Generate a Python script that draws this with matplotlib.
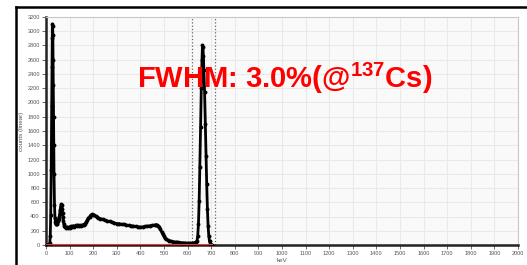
import matplotlib
matplotlib.use("Agg")
import matplotlib.pyplot as plt
from matplotlib.lines import Line2D

# spectrum (keV, counts), 10 points per row
energy = [0, 4, 8, 12, 14, 16, 18, 20, 22, 24,
          25, 26, 27, 28, 29, 30, 31, 32, 33, 34,
          36, 38, 40, 42, 44, 46, 48, 50, 52, 54,
          56, 58, 60, 62, 64, 66, 68, 70, 72, 74,
          76, 78, 80, 84, 88, 92, 96, 100, 105, 110,
          115, 120, 125, 130, 135, 140, 145, 150, 155, 160,
          165, 170, 175, 180, 185, 190, 195, 200, 205, 210,
          215, 220, 230, 240, 250, 260, 270, 280, 290, 300,
          310, 320, 330, 340, 350, 360, 370, 380, 390, 400,
          410, 420, 430, 440, 450, 460, 465, 470, 475, 480,
          485, 490, 495, 500, 505, 510, 515, 520, 530, 540,
          550, 560, 570, 580, 590, 600, 610, 620, 625, 630,
          635, 640, 643, 646, 649, 652, 655, 658, 661, 663,
          665, 667, 669, 672, 675, 678, 681, 684, 687, 690,
          693, 696, 700, 704]
counts = [0, 0, 0, 0, 5, 30, 120, 420, 1050, 1950,
          2500, 2900, 3100, 3080, 2950, 2600, 2250, 1800, 1400, 1000,
          560, 380, 320, 300, 290, 300, 310, 330, 350, 370,
          400, 440, 490, 540, 570, 560, 510, 450, 390, 330,
          290, 265, 250, 240, 255, 235, 250, 245, 265, 250,
          270, 255, 275, 260, 280, 265, 275, 270, 285, 280,
          300, 320, 350, 380, 400, 420, 430, 425, 415, 405,
          395, 385, 370, 360, 345, 335, 330, 320, 310, 300,
          300, 290, 290, 280, 275, 270, 265, 260, 255, 250,
          255, 260, 265, 270, 275, 280, 285, 280, 270, 250,
          220, 185, 150, 120, 95, 80, 68, 60, 52, 46,
          42, 38, 34, 30, 28, 26, 25, 25, 28, 32,
          40, 60, 130, 300, 620, 1100, 1650, 2200, 2600, 2800,
          2780, 2650, 2450, 2150, 1700, 1250, 850, 500, 260, 120,
          50, 18, 6, 0]

bar_x = [0, 700]
bar_y = [0, 0]
roi_edges = [620, 717]
fwhm_text = r"FWHM: 3.0%(@$^{\mathrm{137}}$Cs)"

plt.rcParams["font.family"] = ["Liberation Sans", "DejaVu Sans"]
plt.rcParams["mathtext.fontset"] = "custom"
plt.rcParams["mathtext.rm"] = "Liberation Sans:bold"

fig = plt.figure(figsize=(5.27, 2.65), dpi=100)
fig.patch.set_facecolor("white")
ax = fig.add_axes([46 / 527, 1 - 245 / 265, 472 / 527, 228 / 265])
ax.set_facecolor("#f9f9f9")

ax.plot(energy, counts, color="black", linewidth=2.0, marker="o",
        markersize=1.8, zorder=3)
ax.plot(bar_x, bar_y, color="#ff3030", linewidth=2.2, zorder=4)
for e in roi_edges:
    ax.axvline(e, color="#666666", linestyle=":", linewidth=0.9, zorder=2)

ax.set_xlim(0, 2000)
ax.set_ylim(0, 3200)
ax.set_xticks(range(0, 2001, 100))
ax.set_yticks(range(0, 3201, 200))
ax.grid(True, color="#e9e9e9", linewidth=0.8)
ax.set_axisbelow(True)
ax.tick_params(labelsize=4, colors="#555555", length=3, width=0.6, pad=1.5)
for s in ["top", "right"]:
    ax.spines[s].set_color("#c8c8c8")
    ax.spines[s].set_linewidth(0.8)
for s in ["left", "bottom"]:
    ax.spines[s].set_color("#222222")
    ax.spines[s].set_linewidth(1.8)
ax.set_xlabel("keV", fontsize=4.5, color="#555555", labelpad=1)
ax.set_ylabel("counts (linear)", fontsize=4.5, color="#555555", labelpad=2)

fig.text(137 / 527, 1 - 78 / 265, fwhm_text, color="#ff0000", fontsize=21,
         fontweight="bold", ha="left", va="center")

# outer frame (cut off at right and bottom)
fig.add_artist(Line2D([15.5 / 527, 15.5 / 527], [0, 1 - 6.5 / 265],
                      color="black", linewidth=1.8))
fig.add_artist(Line2D([15.5 / 527, 1], [1 - 6.5 / 265, 1 - 6.5 / 265],
                      color="black", linewidth=1.8))

fig.savefig("out.png", dpi=100)
